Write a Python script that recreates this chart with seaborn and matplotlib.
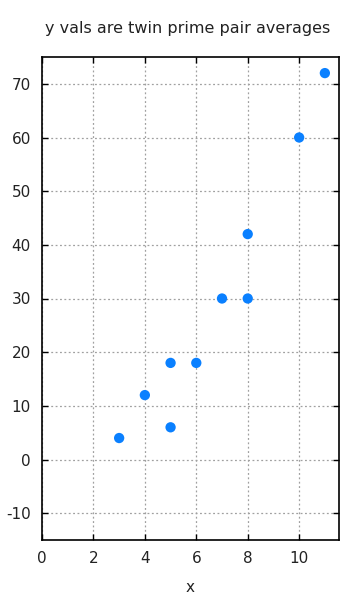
import matplotlib
matplotlib.use("Agg")
import matplotlib.pyplot as plt
import seaborn as sns
import pandas as pd

x_vals = [3, 4, 5, 5, 6, 7, 8, 8, 10, 11]
y_vals = [4, 12, 6, 18, 18, 30, 30, 42, 60, 72]
x_ticks = [0, 2, 4, 6, 8, 10]
y_ticks = [-10, 0, 10, 20, 30, 40, 50, 60, 70]
title = "y vals are twin prime pair averages"
x_label = "x"

sns.set_theme(style="white")
plt.rcParams['font.family'] = ['DejaVu Sans']
plt.rcParams['axes.unicode_minus'] = False

df = pd.DataFrame({"x": x_vals, "y": y_vals})

fig = plt.figure(figsize=(3.5, 6), dpi=100)
ax = fig.add_axes([0.12, 0.1, 0.8486, 0.805])
sns.scatterplot(data=df, x="x", y="y", ax=ax, color="#0a80ff", s=55,
                edgecolor="none", zorder=3)
ax.set_xlim(0, 11.55)
ax.set_ylim(-15, 75)
ax.set_xticks(x_ticks)
ax.set_yticks(y_ticks)
ax.grid(True, color="#a0a0a0", linestyle=(0, (1.5, 2)), linewidth=0.9)
for s in ax.spines.values():
    s.set_color("black")
    s.set_linewidth(1.2)
ax.tick_params(direction="in", top=True, right=True, left=True, bottom=True,
               length=4, width=1, labelsize=11, colors="black", pad=8,
               labelcolor="#222222")
ax.set_xlabel(x_label, fontsize=11, color="#222222", labelpad=10)
ax.set_ylabel("")
fig.text(0.535, 0.953, title, ha="center", va="center", fontsize=11.5,
         color="#222222")
fig.savefig("out.png", dpi=100)
